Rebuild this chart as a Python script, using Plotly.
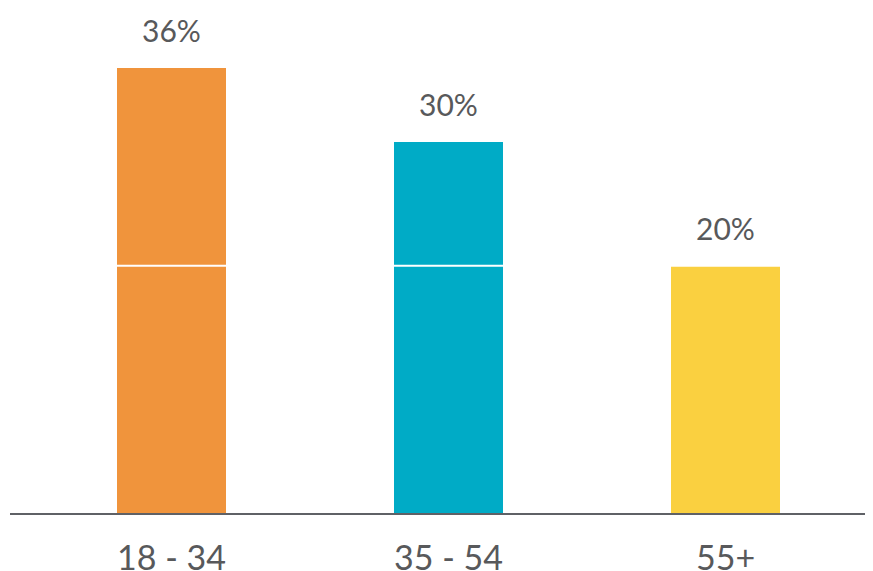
import plotly.graph_objects as go

categories = ["18 - 34", "35 - 54", "55+"]
values = [36, 30, 20]
labels = ["36%", "30%", "20%"]
colors = ["#F0943C", "#00ABC6", "#FAD040"]
gridlines = [20]

xpos = list(range(len(categories)))

fig = go.Figure()
fig.add_trace(go.Bar(
    x=xpos, y=values, width=0.3935,
    marker=dict(color=colors, line=dict(width=0)),
    hoverinfo="skip",
))

for x, v, t in zip(xpos, values, labels):
    fig.add_annotation(x=x, y=v, text=t, showarrow=False, yanchor="bottom",
                       yshift=18, font=dict(family="Lato", size=30, color="#58595B"))

for g in gridlines:
    fig.add_shape(type="line", xref="paper", x0=0, x1=1, yref="y", y0=g, y1=g,
                  line=dict(color="white", width=2), layer="above")

fig.update_layout(
    width=873, height=571,
    margin=dict(l=2, r=8, t=0, b=66),
    paper_bgcolor="white", plot_bgcolor="white",
    showlegend=False,
    bargap=0,
    xaxis=dict(range=[-0.583, 2.532], tickvals=xpos, ticktext=categories,
               showline=True, linecolor="#5F6166", linewidth=2,
               showgrid=False, zeroline=False, ticks="",
               ticklabelstandoff=14, automargin=False,
               tickfont=dict(family="Lato", size=34, color="#58595B"),
               layer="above traces"),
    yaxis=dict(range=[0, 40.86], showticklabels=False, showgrid=False,
               zeroline=False, showline=False, automargin=False),
)

fig.write_html("out.html")
